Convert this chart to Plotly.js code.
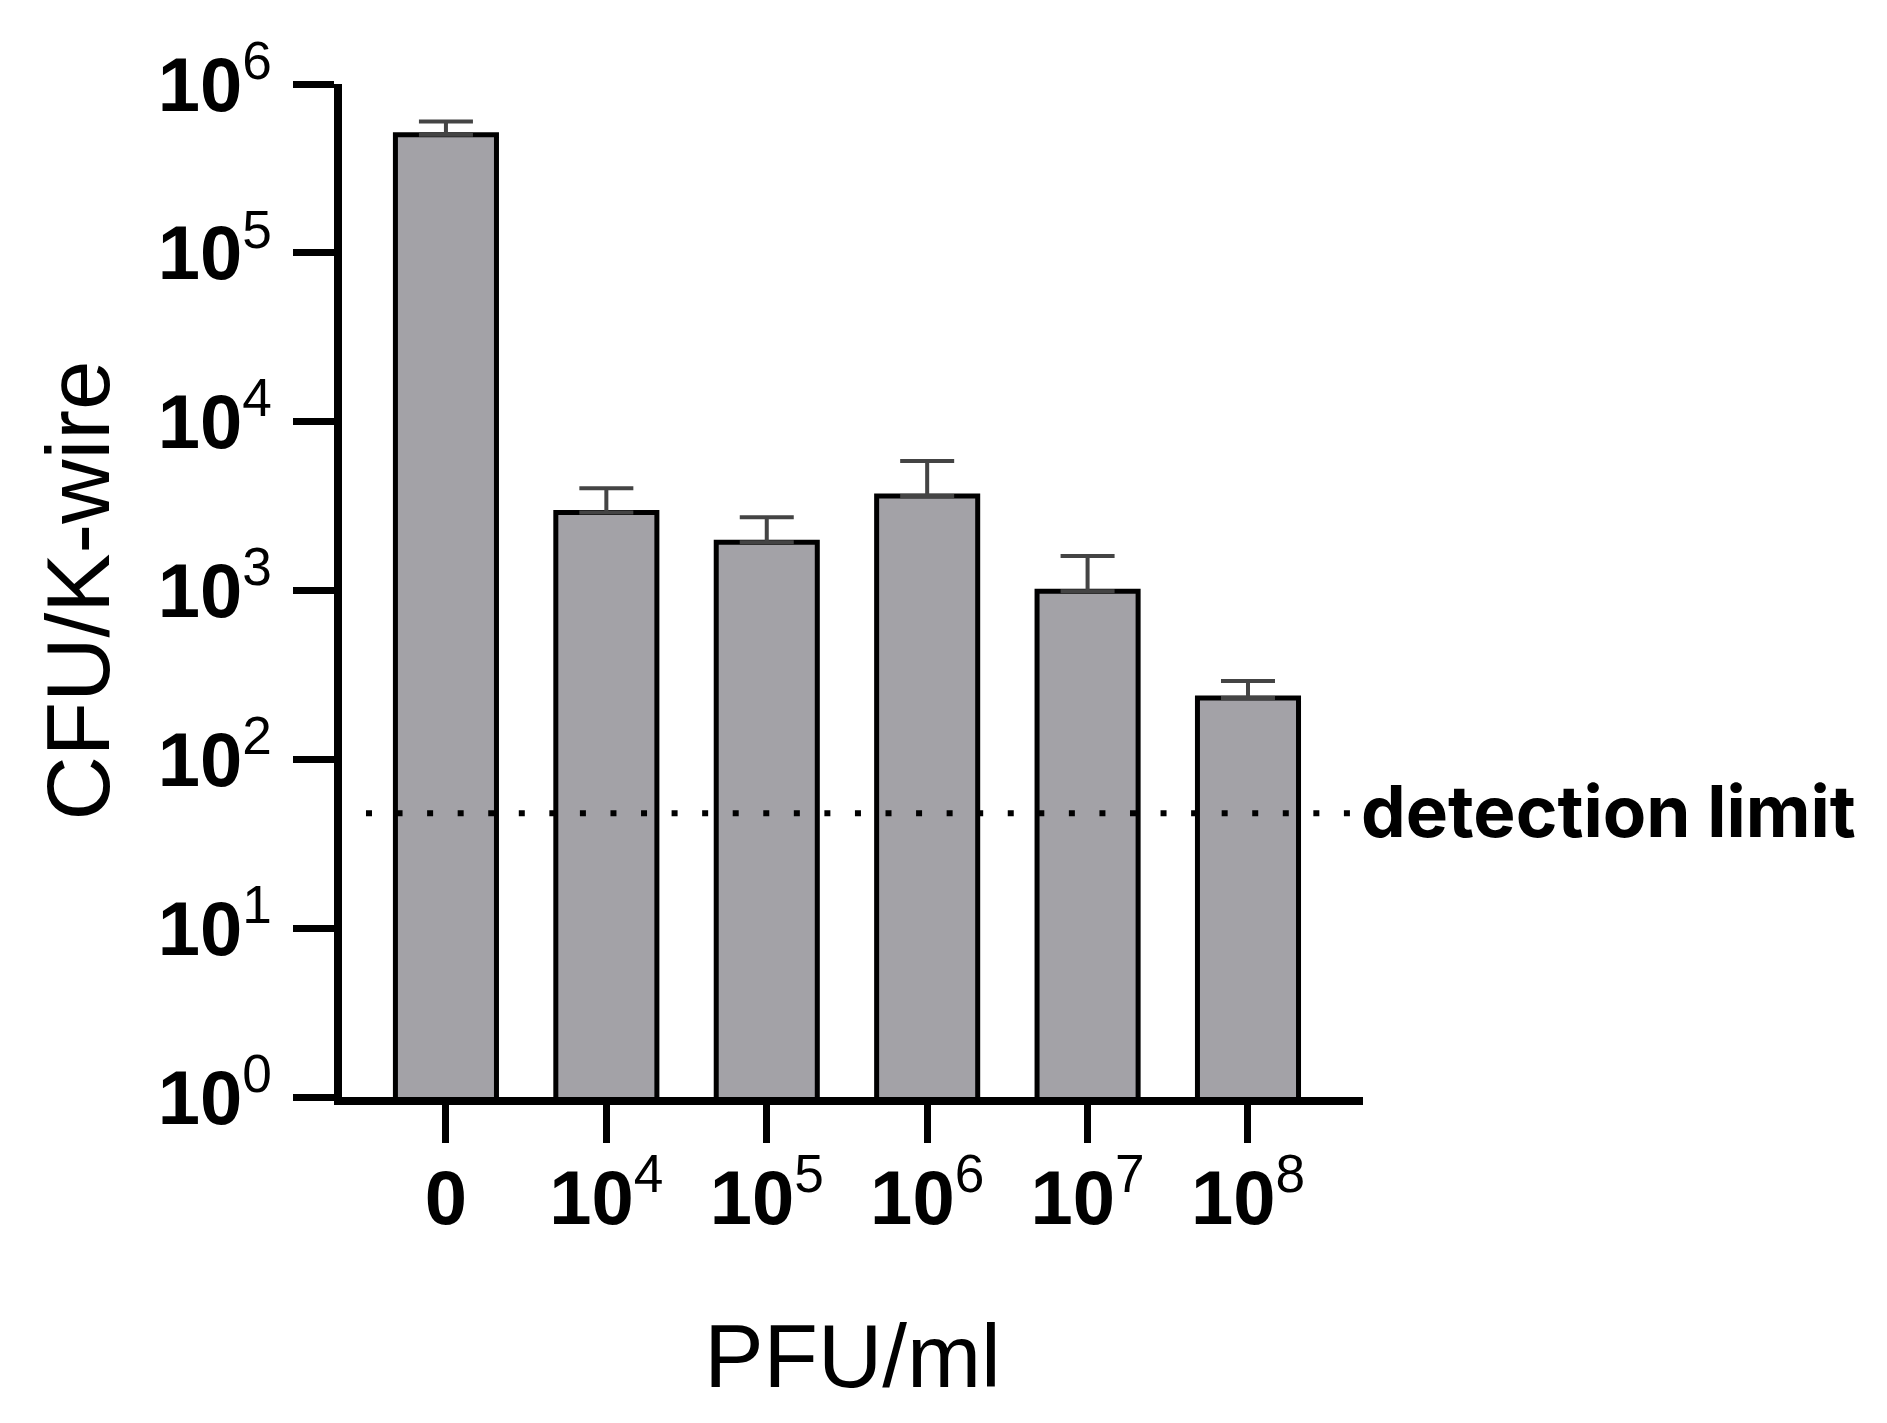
<!DOCTYPE html>
<html>
<head>
<meta charset="utf-8">
<script src="https://cdn.plot.ly/plotly-3.0.1.min.js"></script>
<style>
html,body{margin:0;padding:0;background:#ffffff;}
#chart{width:1887px;height:1423px;}
</style>
</head>
<body>
<div id="chart"></div>
<script>
// ---- data ----
const categories = ["0", "1e4", "1e5", "1e6", "1e7", "1e8"];
const categoryExponents = [null, 4, 5, 6, 7, 8];
const meanCFU = [500000, 2900, 1930, 3630, 990, 231];
const sdCFU = [100000, 1130, 790, 2220, 610, 60];
const detectionLimit = 48;
const yTickVals = [1, 10, 100, 1000, 10000, 100000, 1000000];
const yTickExponents = [0, 1, 2, 3, 4, 5, 6];
const detectionLabel = "detection limit";
const xTitle = "PFU/ml";
const yTitle = "CFU/K-wire";

const pow10Label = e => "10<sup><span style=\"font-weight:normal\">" + e + "</span></sup>";
const categoryLabels = categoryExponents.map(e => e === null ? "0" : pow10Label(e));
const yTickText = yTickExponents.map(pow10Label);

const tickFont = {family: "Liberation Sans, Arial, sans-serif", size: 76, color: "#000", weight: 700};
const titleFont = {family: "Liberation Sans, Arial, sans-serif", size: 89, color: "#000"};

const bars = {
  type: "bar",
  x: categories,
  y: meanCFU,
  width: 0.63,
  marker: {color: "#a3a2a7", line: {color: "#000", width: 5}},
  error_y: {type: "data", array: sdCFU, arrayminus: sdCFU.map(() => 0), symmetric: false,
            color: "#444444", thickness: 4, width: 27},
  hoverinfo: "x+y",
  showlegend: false
};

const limitLine = {
  type: "scatter",
  mode: "lines",
  x: [0.0235, 0.9875],
  y: [detectionLimit, detectionLimit],
  xaxis: "x2",
  yaxis: "y",
  line: {color: "#000", width: 6, dash: "6px,24.56px"},
  hoverinfo: "skip",
  showlegend: false
};

const layout = {
  width: 1887,
  height: 1423,
  paper_bgcolor: "#ffffff",
  plot_bgcolor: "#ffffff",
  margin: {l: 342, r: 524, t: 84, b: 326},
  showlegend: false,
  xaxis: {
    type: "category",
    range: [-0.648, 5.717],
    tickvals: categories,
    ticktext: categoryLabels,
    showline: true, linecolor: "#000", linewidth: 8,
    ticks: "outside", ticklen: 38, tickwidth: 7, tickcolor: "#000",
    ticklabelstandoff: -10,
    tickfont: tickFont,
    showgrid: false, zeroline: false,
    title: {text: xTitle, font: titleFont, standoff: 88}
  },
  xaxis2: {
    overlaying: "x", anchor: "y", range: [0, 1], visible: false, fixedrange: true
  },
  yaxis: {
    type: "log",
    range: [0, 6],
    tickvals: yTickVals,
    ticktext: yTickText,
    showline: true, linecolor: "#000", linewidth: 8,
    ticks: "outside", ticklen: 41, tickwidth: 7, tickcolor: "#000",
    ticklabelstandoff: 6,
    tickfont: tickFont,
    showgrid: false, zeroline: false,
    title: {text: yTitle, font: titleFont, standoff: 22}
  },
  annotations: [{
    xref: "paper", yref: "y",
    x: 1, y: Math.log10(detectionLimit),
    xanchor: "left", yanchor: "middle",
    xshift: -4, yshift: 2,
    text: detectionLabel,
    showarrow: false,
    font: {family: "Inter, Lato, sans-serif", size: 71, color: "#000", weight: 700}
  }]
};

Plotly.newPlot("chart", [bars, limitLine], layout, {staticPlot: true, displayModeBar: false});
</script>
</body>
</html>
